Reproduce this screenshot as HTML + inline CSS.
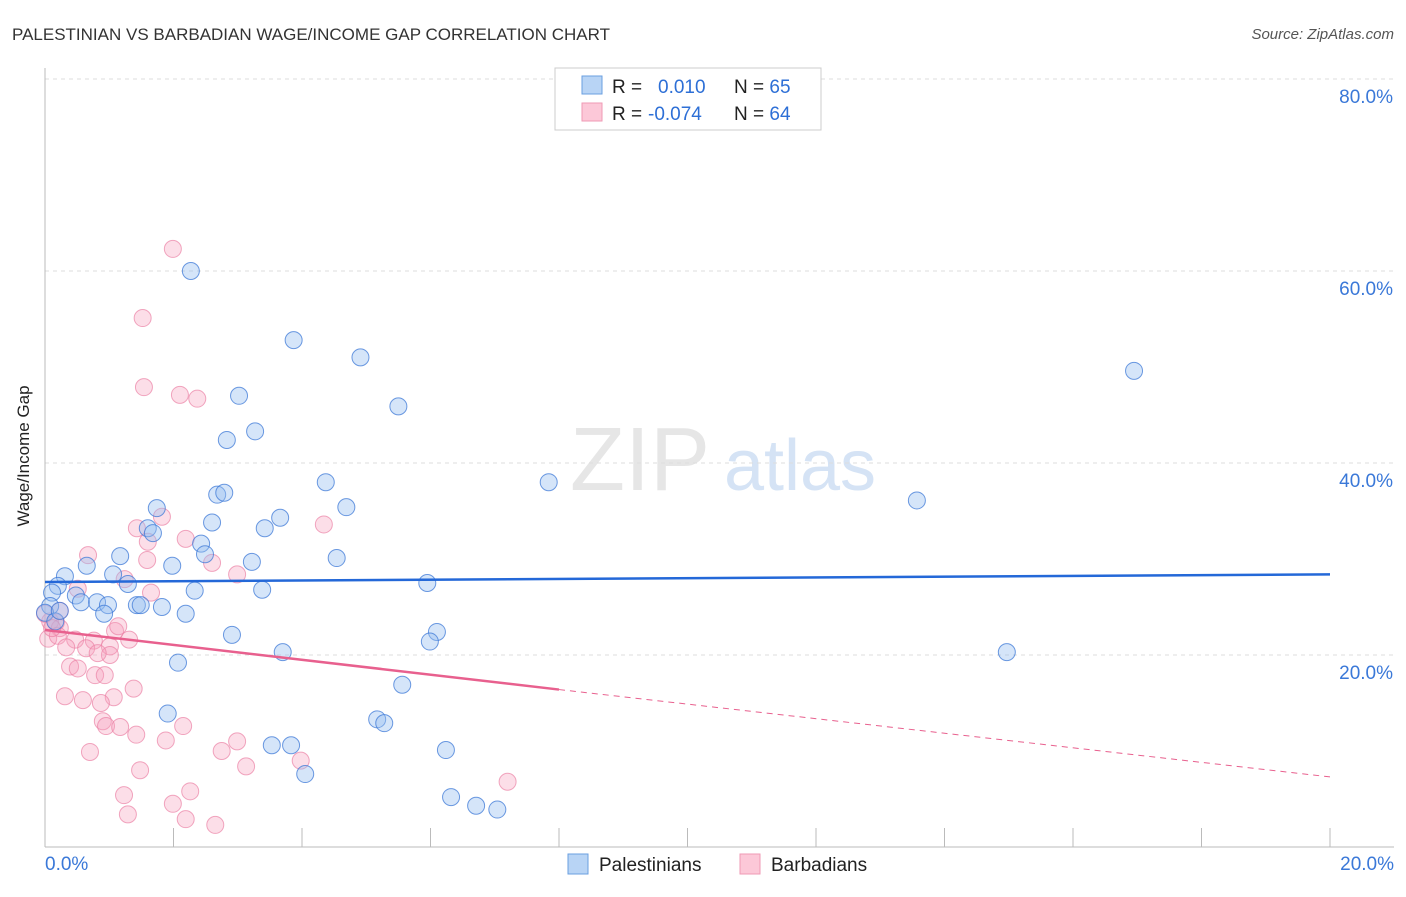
<!DOCTYPE html>
<html><head><meta charset="utf-8"><style>
body{margin:0;background:#fff;font-family:"Liberation Sans",sans-serif}
svg text{font-family:"Liberation Sans",sans-serif}
</style></head><body>
<svg width="1406" height="892">
<text x="12" y="40" font-size="17" fill="#333">PALESTINIAN VS BARBADIAN WAGE/INCOME GAP CORRELATION CHART</text>
<text x="1394" y="39" font-size="15" fill="#555" font-style="italic" text-anchor="end">Source: ZipAtlas.com</text>
<text x="640" y="490" font-size="90" fill="#e6e6e6" font-family="Liberation Serif" text-anchor="middle">ZIP</text>
<text x="800" y="490" font-size="72" fill="#d5e3f5" text-anchor="middle">atlas</text>
<g id="grid"></g>
<line x1="45" y1="68" x2="45" y2="847" stroke="#bbb"/>
<line x1="45" y1="847" x2="1394" y2="847" stroke="#bbb"/>
<g id="ticks"></g>
<text x="29" y="456" font-size="17" fill="#222" transform="rotate(-90 29 456)" text-anchor="middle">Wage/Income Gap</text>
<g id="pts"></g>
<g id="trend"></g>
<g>
<rect x="555" y="68" width="266" height="62" fill="#fff" stroke="#ccc"/>
<rect x="582" y="76" width="20" height="18" fill="#b8d4f5" stroke="#6a9fe0"/>
<rect x="582" y="103" width="20" height="18" fill="#fcc8d8" stroke="#ef9ab5"/>
<text x="612" y="93" font-size="19" fill="#222">R = <tspan fill="#2d6fd6" x="658">0.010</tspan><tspan x="734" fill="#222">N = </tspan><tspan fill="#2d6fd6">65</tspan></text>
<text x="612" y="120" font-size="19" fill="#222">R = <tspan fill="#2d6fd6" x="648">-0.074</tspan><tspan x="734" fill="#222">N = </tspan><tspan fill="#2d6fd6">64</tspan></text>
</g>
<g>
<rect x="568" y="854" width="20" height="20" fill="#b8d4f5" stroke="#6a9fe0"/>
<text x="599" y="871" font-size="19" fill="#222">Palestinians</text>
<rect x="740" y="854" width="20" height="20" fill="#fcc8d8" stroke="#ef9ab5"/>
<text x="771" y="871" font-size="19" fill="#222">Barbadians</text>
</g>
</svg>
<script>
const yTicks=[20,40,60,80];
const xTickLabels=["0.0%","20.0%"];
const palX=[2.27,3.87,4.91,3.02,5.5,2.83,3.27,2.68,2.79,1.74,4.37,4.69,2.6,1.6,1.68,3.42,3.66,1.17,2.43,2.49,3.22,4.54,7.84,13.57,16.95,14.97,1.98,1.06,0.31,0.2,0.65,1.29,3.38,2.33,5.95,0.48,0.56,0.81,0.98,1.43,1.49,1.82,2.19,0.92,2.91,6.1,5.99,2.07,3.7,5.56,1.91,5.17,5.28,3.53,3.83,6.24,4.05,6.32,6.71,7.04,0.11,0.08,0,0.16,0.23];
const palY=[60,52.8,51,47,45.9,42.4,43.3,36.7,36.9,35.3,38,35.4,33.8,33.2,32.7,33.2,34.3,30.3,31.6,30.5,29.7,30.1,38,36.1,49.6,20.3,29.3,28.4,28.2,27.2,29.3,27.4,26.8,26.7,27.5,26.2,25.5,25.5,25.2,25.2,25.2,25,24.3,24.3,22.1,22.4,21.4,19.2,20.3,16.9,13.9,13.3,12.9,10.6,10.6,10.1,7.6,5.2,4.3,3.9,26.5,25.1,24.4,23.5,24.6];
const barX=[1.99,1.52,1.54,2.1,2.37,4.34,1.82,1.43,1.6,2.19,2.6,2.99,1.59,0.67,0.51,1.24,1.65,0.17,0.08,0.23,0.05,0.2,0.47,0.33,0.76,0.64,1.01,1.31,1.01,0.82,0.39,0.51,0.78,0.93,1.38,0.31,0.59,1.07,0.87,0.9,0.95,1.17,1.42,2.15,1.88,2.75,2.99,3.13,3.98,0.7,1.48,1.99,2.26,1.23,1.29,2.19,2.65,7.2,1.09,0,0.11,1.14,0.23];
const barY=[62.3,55.1,47.9,47.1,46.7,33.6,34.4,33.2,31.8,32.1,29.6,28.4,29.9,30.4,26.9,27.9,26.5,23.4,23.5,22.8,21.7,22,21.6,20.8,21.5,20.7,20.9,21.6,20,20.2,18.8,18.6,17.9,17.9,16.5,15.7,15.3,15.6,15,13.1,12.6,12.5,11.7,12.6,11.1,10,11,8.4,9,9.9,8,4.5,5.8,5.4,3.4,2.9,2.3,6.8,22.5,24.3,22.8,23,24.6];
const palTrend=[27.6,28.4];
const barTrend=[22.6,16.4,7.3];
const ns="http://www.w3.org/2000/svg";
const X=v=>45+v/20*1285, Y=v=>847-v*9.6;
function mk(t,a,p){const e=document.createElementNS(ns,t);for(const k in a)e.setAttribute(k,a[k]);p.appendChild(e);return e;}
const grid=document.getElementById('grid'),ticks=document.getElementById('ticks'),pts=document.getElementById('pts'),tr=document.getElementById('trend');
yTicks.forEach(v=>{
 const l=mk('line',{x1:45,x2:1394,y1:Y(v),y2:Y(v),stroke:'#ddd','stroke-dasharray':'4,4'},grid);
 
 
 const t=mk('text',{x:1393,y:Y(v)+24,'font-size':19,fill:'#3a78d8','text-anchor':'end'},ticks);t.textContent=v.toFixed(1)+'%';
 
 
});
for(let i=1;i<=10;i++){const l=mk('line',{x1:X(i*2),x2:X(i*2),y1:828,y2:847,stroke:'#bbb'},ticks);
 
 }
[[0,45,'start'],[20,1394,'end']].forEach((d,i)=>{const t=mk('text',{x:d[1],y:870,'font-size':19,fill:'#3a78d8','text-anchor':d[2]},ticks);t.textContent=xTickLabels[i];
 
 });
barX.forEach((v,i)=>{const c=mk('circle',{cx:X(v),cy:Y(barY[i]),r:8.5,fill:'rgba(245,160,190,0.35)',stroke:'rgba(235,130,165,0.7)','stroke-width':1},pts);
 
 });
palX.forEach((v,i)=>{const c=mk('circle',{cx:X(v),cy:Y(palY[i]),r:8.5,fill:'rgba(150,190,240,0.4)',stroke:'rgba(60,120,215,0.75)','stroke-width':1},pts);
 
 });
let l=mk('line',{x1:X(0),y1:Y(palTrend[0]),x2:X(20),y2:Y(palTrend[1]),stroke:'#2468d8','stroke-width':2.5},tr);


l=mk('line',{x1:X(0),y1:Y(barTrend[0]),x2:X(8),y2:Y(barTrend[1]),stroke:'#e8608e','stroke-width':2.5},tr);


l=mk('line',{x1:X(8),y1:Y(barTrend[1]),x2:X(20),y2:Y(barTrend[2]),stroke:'#e8608e','stroke-width':1,'stroke-dasharray':'6,5'},tr);


</script>
</body></html>
